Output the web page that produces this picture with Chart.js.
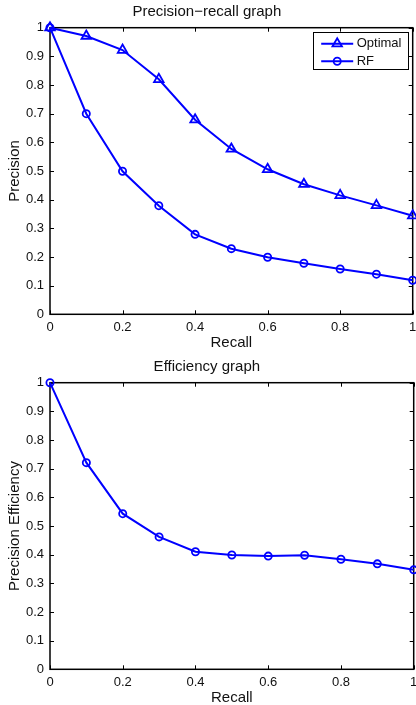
<!DOCTYPE html>
<html>
<head>
<meta charset="utf-8">
<script src="https://cdn.jsdelivr.net/npm/chart.js@4/dist/chart.umd.min.js"></script>
<style>
  html, body { margin: 0; padding: 0; background: #fff; overflow: hidden; }
  canvas { display: block; }
  #c2 { margin-top: 5px; }
</style>
</head>
<body>
<canvas id="c1" width="420" height="350"></canvas>
<canvas id="c2" width="420" height="350"></canvas>
<script>
// ---- data ----
const recall = [0, 0.1, 0.2, 0.3, 0.4, 0.5, 0.6, 0.7, 0.8, 0.9, 1];
const optimalPrecision = [1, 0.971, 0.922, 0.82, 0.679, 0.577, 0.506, 0.454, 0.415, 0.38, 0.344];
const rfPrecision = [1, 0.70, 0.499, 0.379, 0.279, 0.229, 0.199, 0.178, 0.158, 0.14, 0.119];
const rfEfficiency = [1, 0.721, 0.543, 0.462, 0.41, 0.399, 0.395, 0.398, 0.384, 0.368, 0.347];
const seriesLabels = ['Optimal', 'RF'];
const titles = ['Precision\u2212recall graph', 'Efficiency graph'];
const xTitle = 'Recall';
const yTitles = ['Precision', 'Precision Efficiency'];

const BLUE = '#0000ff';
const TEXT = '#111';
Chart.defaults.font.family = 'Arial, "Liberation Sans", Helvetica, sans-serif';
Chart.defaults.color = TEXT;

const pts = (ys) => recall.map((x, i) => ({ x: x, y: ys[i] }));
const fmt = (v) => String(Number(Number(v).toFixed(2)));

function drawMarker(ctx, style, r, x, y) {
  ctx.beginPath();
  if (style === 'triangle') {
    let rad = 0;
    ctx.moveTo(x + Math.sin(rad) * r, y - Math.cos(rad) * r);
    rad += 2 * Math.PI / 3;
    ctx.lineTo(x + Math.sin(rad) * r, y - Math.cos(rad) * r);
    rad += 2 * Math.PI / 3;
    ctx.lineTo(x + Math.sin(rad) * r, y - Math.cos(rad) * r);
    ctx.closePath();
  } else {
    ctx.arc(x, y, r, 0, Math.PI * 2);
  }
  ctx.stroke();
}

const framePlugin = {
  id: 'frame',
  beforeDatasetsDraw(chart) {
    const { ctx, chartArea: a, scales } = chart;
    ctx.save();
    ctx.strokeStyle = '#000';
    ctx.lineWidth = 1.5;
    ctx.strokeRect(a.left, a.top, a.right - a.left, a.bottom - a.top);
    ctx.lineWidth = 1;
    const tl = 4;
    ctx.beginPath();
    scales.x.ticks.forEach(t => {
      const px = Math.round(scales.x.getPixelForValue(t.value)) + 0.5;
      ctx.moveTo(px, a.bottom); ctx.lineTo(px, a.bottom - tl);
      ctx.moveTo(px, a.top); ctx.lineTo(px, a.top + tl);
    });
    scales.y.ticks.forEach(t => {
      const py = Math.round(scales.y.getPixelForValue(t.value)) + 0.5;
      ctx.moveTo(a.left, py); ctx.lineTo(a.left + tl, py);
      ctx.moveTo(a.right, py); ctx.lineTo(a.right - tl, py);
    });
    ctx.stroke();
    ctx.restore();
  }
};

const boxLegendPlugin = {
  id: 'boxLegend',
  afterDatasetsDraw(chart, args, opts) {
    if (!opts || !opts.show) return;
    const { ctx, chartArea: a } = chart;
    const w = 95, h = 37;
    const bx = a.right - 4.5 - w, by = a.top + 4.5;
    ctx.save();
    ctx.fillStyle = '#fff';
    ctx.fillRect(bx, by, w, h);
    ctx.strokeStyle = '#000';
    ctx.lineWidth = 1;
    ctx.strokeRect(Math.round(bx) + 0.5, Math.round(by) + 0.5, w, h);
    ctx.font = '13px Arial, "Liberation Sans", sans-serif';
    ctx.textBaseline = 'middle';
    ctx.textAlign = 'left';
    chart.data.datasets.forEach((ds, i) => {
      const cy = by + 11.5 + i * 17.5;
      ctx.strokeStyle = ds.borderColor;
      ctx.lineWidth = ds.borderWidth;
      ctx.beginPath();
      ctx.moveTo(bx + 8, cy); ctx.lineTo(bx + 40, cy);
      ctx.stroke();
      ctx.lineWidth = ds.pointBorderWidth;
      drawMarker(ctx, ds.pointStyle, ds.pointRadius, bx + 24, cy);
      ctx.fillStyle = TEXT;
      ctx.fillText(ds.label, bx + 43.5, cy);
    });
    ctx.restore();
  }
};

function makeChart(id, idx, datasets, showLegend) {
  return new Chart(document.getElementById(id), {
    type: 'line',
    data: { datasets: datasets },
    plugins: [framePlugin, boxLegendPlugin],
    options: {
      responsive: false,
      animation: false,
      layout: { padding: { left: 0, right: 6.3, top: 0, bottom: 0 } },
      plugins: {
        legend: { display: false },
        tooltip: { enabled: false },
        title: {
          display: true,
          text: titles[idx],
          color: TEXT,
          font: { size: 15, weight: 'normal' },
          padding: { top: 3, bottom: 6.7 }
        },
        boxLegend: { show: showLegend }
      },
      scales: {
        x: {
          type: 'linear', min: 0, max: 1,
          border: { display: false },
          grid: { display: false, drawTicks: false },
          ticks: { stepSize: 0.2, autoSkip: false, maxRotation: 0, padding: 5, font: { size: 13 }, color: TEXT, callback: fmt },
          title: { display: true, text: xTitle, font: { size: 15 }, color: TEXT, padding: { top: 0, bottom: -1.5 } },
          afterFit(s) { s.height = 350 - 314.3; s.paddingLeft = 0; s.paddingRight = 0; }
        },
        y: {
          type: 'linear', min: 0, max: 1,
          border: { display: false },
          grid: { display: false, drawTicks: false },
          ticks: { stepSize: 0.1, autoSkip: false, padding: 6, font: { size: 13 }, color: TEXT, callback: fmt },
          title: { display: true, text: yTitles[idx], font: { size: 15 }, color: TEXT, padding: { top: 6, bottom: 0 } },
          afterFit(s) { s.width = 50; s.paddingTop = 0; s.paddingBottom = 0; }
        }
      }
    }
  });
}

const lineBase = { borderColor: BLUE, borderWidth: 2, tension: 0, clip: false,
  pointBackgroundColor: 'rgba(0,0,0,0)', pointBorderColor: BLUE, pointBorderWidth: 1.8 };

makeChart('c1', 0, [
  Object.assign({}, lineBase, { label: seriesLabels[0], data: pts(optimalPrecision), pointStyle: 'triangle', pointRadius: 5.5 }),
  Object.assign({}, lineBase, { label: seriesLabels[1], data: pts(rfPrecision), pointStyle: 'circle', pointRadius: 3.6 })
], true);

makeChart('c2', 1, [
  Object.assign({}, lineBase, { label: seriesLabels[1], data: pts(rfEfficiency), pointStyle: 'circle', pointRadius: 3.6 })
], false);
</script>
</body>
</html>
